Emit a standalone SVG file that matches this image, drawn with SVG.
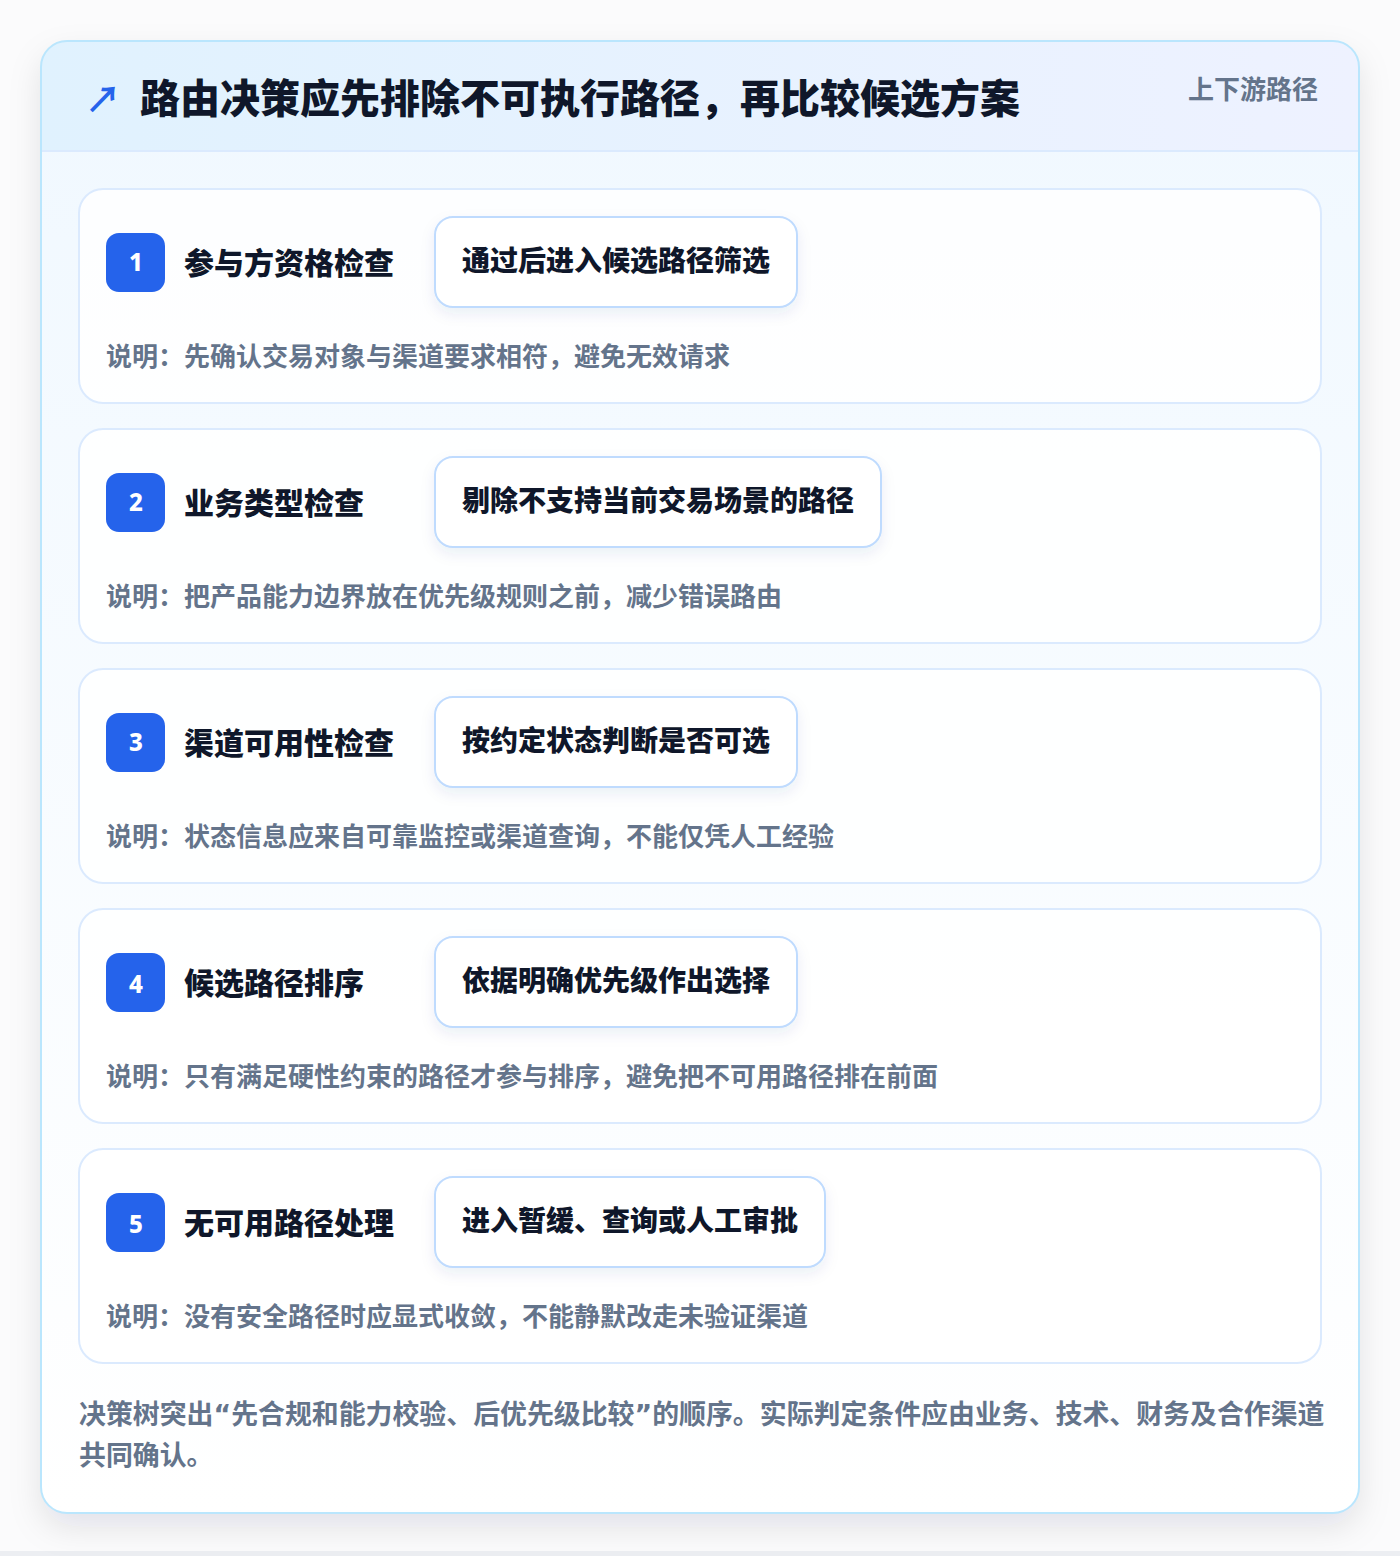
<svg xmlns="http://www.w3.org/2000/svg" width="1400" height="1556" viewBox="0 0 1400 1556">
<defs>
<linearGradient id="hdr" x1="0" y1="0" x2="1" y2="0">
<stop offset="0" stop-color="#e0f2fe"/>
<stop offset="1" stop-color="#eef2ff"/>
</linearGradient>
<linearGradient id="body" x1="0" y1="0" x2="0" y2="1">
<stop offset="0" stop-color="#f0f8ff"/>
<stop offset="1" stop-color="#ffffff"/>
</linearGradient>
<filter id="sh" x="-10%" y="-10%" width="120%" height="120%">
<feDropShadow dx="0" dy="14" stdDeviation="16" flood-color="#0f172a" flood-opacity="0.10"/>
</filter>
<filter id="csh" x="-10%" y="-20%" width="120%" height="160%">
<feDropShadow dx="0" dy="6" stdDeviation="7" flood-color="#1e3a8a" flood-opacity="0.08"/>
</filter>
<clipPath id="outer"><rect x="41" y="41" width="1318" height="1472" rx="26"/></clipPath>
<style>
text{font-family:"Noto Sans CJK SC","Noto Sans",sans-serif;}
.card{fill:#ffffff;fill-opacity:0.85;stroke:#dbeafe;stroke-width:2;}
.badge{fill:#2563eb;}
.num{fill:#ffffff;font-size:24px;font-weight:800;text-anchor:middle;font-family:"Noto Sans","Liberation Sans",sans-serif;}
.ttl{fill:#0f172a;font-size:30px;font-weight:800;}
.chip{fill:#ffffff;stroke:#bfdbfe;stroke-width:2;}
.chipt{fill:#0f172a;font-size:28px;font-weight:800;}
.desc{fill:#64748b;font-size:26px;font-weight:700;}
.foot{fill:#64748b;font-size:26.9px;font-weight:700;}
.q{font-family:"DejaVu Sans",sans-serif;}
</style>
</defs>
<rect width="1400" height="1556" fill="#fbfbfc"/>
<rect x="0" y="1551" width="1400" height="5" fill="#eceef2"/>
<g id="frame">
<rect x="41" y="41" width="1318" height="1472" rx="26" fill="url(#body)" filter="url(#sh)"/>
<g clip-path="url(#outer)">
<rect x="41" y="41" width="1318" height="1472" fill="url(#body)"/>
<rect x="41" y="41" width="1318" height="110" fill="url(#hdr)"/>
<line x1="41" y1="151" x2="1359" y2="151" stroke="#dbeafe" stroke-width="2"/>
</g>
<rect x="41" y="41" width="1318" height="1472" rx="26" fill="none" stroke="#bae6fd" stroke-width="2"/>
</g>
<g id="header">
<text x="85" y="113" font-size="36" font-weight="700" fill="#2563eb" font-family="DejaVu Sans,sans-serif">↗</text>
<text x="140" y="113" font-size="40" font-weight="900" fill="#0f172a">路由决策应先排除不可执行路径，再比较候选方案</text>
<text x="1318" y="99" font-size="26" font-weight="700" fill="#64748b" text-anchor="end">上下游路径</text>
</g>
<g id="step1">
<rect class="card" x="79" y="189" width="1242" height="214" rx="24"/>
<rect class="badge" x="106" y="233" width="59" height="59" rx="13"/>
<text class="num" x="136" y="271">1</text>
<text class="ttl" x="184" y="274">参与方资格检查</text>
<rect class="chip" x="435" y="217" width="362" height="90" rx="18" filter="url(#csh)"/>
<text class="chipt" x="462" y="271">通过后进入候选路径筛选</text>
<text class="desc" x="106" y="366">说明：先确认交易对象与渠道要求相符，避免无效请求</text>
</g>
<g id="step2">
<rect class="card" x="79" y="429" width="1242" height="214" rx="24"/>
<rect class="badge" x="106" y="473" width="59" height="59" rx="13"/>
<text class="num" x="136" y="511">2</text>
<text class="ttl" x="184" y="514">业务类型检查</text>
<rect class="chip" x="435" y="457" width="446" height="90" rx="18" filter="url(#csh)"/>
<text class="chipt" x="462" y="511">剔除不支持当前交易场景的路径</text>
<text class="desc" x="106" y="606">说明：把产品能力边界放在优先级规则之前，减少错误路由</text>
</g>
<g id="step3">
<rect class="card" x="79" y="669" width="1242" height="214" rx="24"/>
<rect class="badge" x="106" y="713" width="59" height="59" rx="13"/>
<text class="num" x="136" y="751">3</text>
<text class="ttl" x="184" y="754">渠道可用性检查</text>
<rect class="chip" x="435" y="697" width="362" height="90" rx="18" filter="url(#csh)"/>
<text class="chipt" x="462" y="751">按约定状态判断是否可选</text>
<text class="desc" x="106" y="846">说明：状态信息应来自可靠监控或渠道查询，不能仅凭人工经验</text>
</g>
<g id="step4">
<rect class="card" x="79" y="909" width="1242" height="214" rx="24"/>
<rect class="badge" x="106" y="953" width="59" height="59" rx="13"/>
<text class="num" x="136" y="993">4</text>
<text class="ttl" x="184" y="994">候选路径排序</text>
<rect class="chip" x="435" y="937" width="362" height="90" rx="18" filter="url(#csh)"/>
<text class="chipt" x="462" y="991">依据明确优先级作出选择</text>
<text class="desc" x="106" y="1086">说明：只有满足硬性约束的路径才参与排序，避免把不可用路径排在前面</text>
</g>
<g id="step5">
<rect class="card" x="79" y="1149" width="1242" height="214" rx="24"/>
<rect class="badge" x="106" y="1193" width="59" height="59" rx="13"/>
<text class="num" x="136" y="1233">5</text>
<text class="ttl" x="184" y="1234">无可用路径处理</text>
<rect class="chip" x="435" y="1177" width="390" height="90" rx="18" filter="url(#csh)"/>
<text class="chipt" x="462" y="1231">进入暂缓、查询或人工审批</text>
<text class="desc" x="106" y="1326">说明：没有安全路径时应显式收敛，不能静默改走未验证渠道</text>
</g>
<g id="connectors"></g>
<g id="footer">
<text class="foot" x="79" y="1424">决策树突出<tspan class="q">“</tspan>先合规和能力校验、后优先级比较<tspan class="q">”</tspan>的顺序。实际判定条件应由业务、技术、财务及合作渠道</text>
<text class="foot" x="79" y="1465">共同确认。</text>
</g>
</svg>
